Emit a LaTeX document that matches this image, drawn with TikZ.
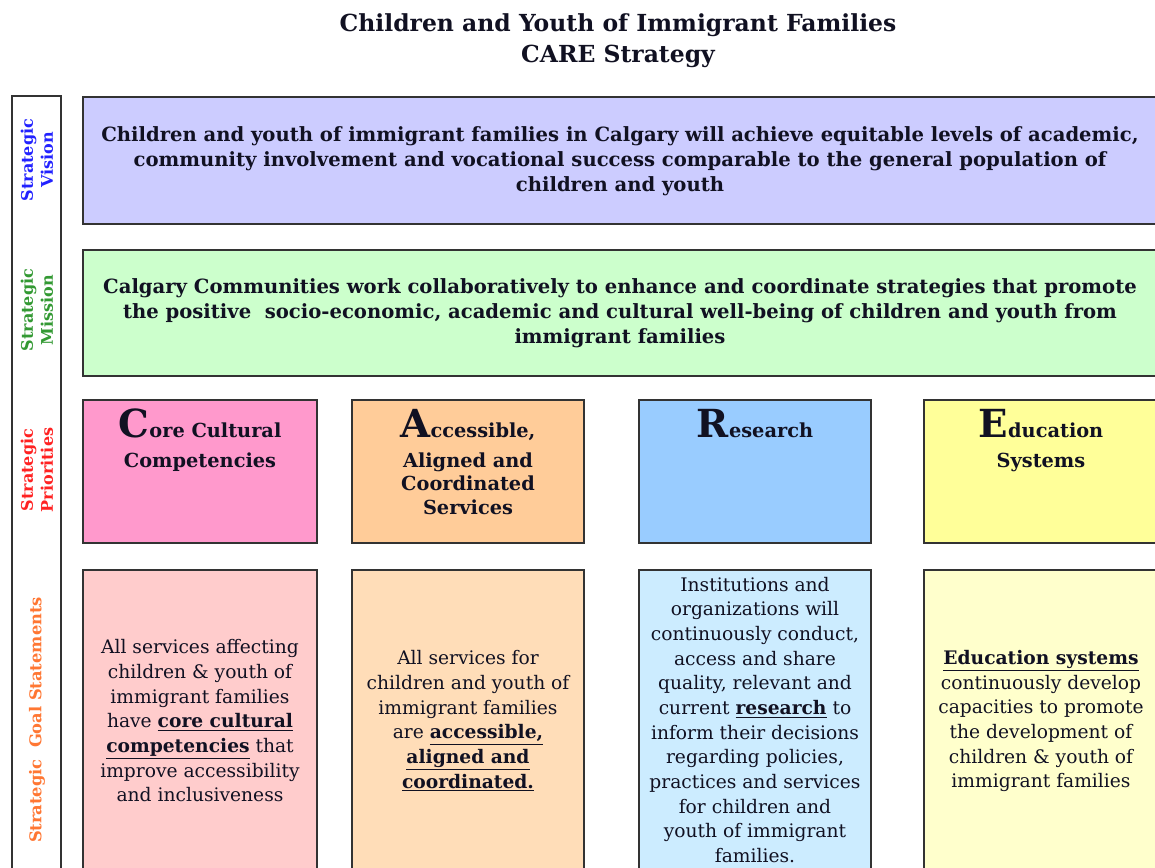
\documentclass[tikz,border=0pt]{standalone}
\usepackage{fontspec}
\setmainfont{DejaVu Serif}
\definecolor{bordc}{HTML}{333333}
\definecolor{txt}{HTML}{111122}
\definecolor{visc}{HTML}{CCCCFF}
\definecolor{misc}{HTML}{CCFFCC}
\definecolor{pri1}{HTML}{FF99CC}
\definecolor{pri2}{HTML}{FFCC99}
\definecolor{pri3}{HTML}{99CCFF}
\definecolor{pri4}{HTML}{FFFF99}
\definecolor{goal1}{HTML}{FFCCCC}
\definecolor{goal2}{HTML}{FFDDB8}
\definecolor{goal3}{HTML}{CCECFF}
\definecolor{goal4}{HTML}{FFFFCC}
\definecolor{lblue}{HTML}{2222FF}
\definecolor{lgreen}{HTML}{339933}
\definecolor{lred}{HTML}{FF2222}
\definecolor{lorange}{HTML}{FF7733}
\begin{document}
\begin{tikzpicture}[x=0.75pt,y=-0.75pt,
  bord/.style={draw=bordc,line width=1.3pt},
  titletext/.style={align=center,text=txt,font=\bfseries\fontsize{17.6}{23.2}\selectfont},
  bigtext/.style={align=center,text=txt,font=\bfseries\fontsize{14.7}{18.7}\selectfont},
  headtext/.style={anchor=base,text=txt,inner sep=0pt,font=\bfseries\fontsize{14.5}{17}\selectfont},
  goaltext/.style={align=center,text=txt,font=\fontsize{14}{18.5}\selectfont},
  sidetext/.style={rotate=90,align=center,font=\bfseries\fontsize{12}{15}\selectfont}]
\newcommand{\bigini}[1]{{\fontsize{29}{29}\selectfont #1}}
\useasboundingbox (0,0) rectangle (1155,867);
\clip (0,0) rectangle (1155,867);
\fill[white] (0,0) rectangle (1155,867);

% title
\node[titletext] (title) at (618,41) {Children and Youth of Immigrant Families\\CARE Strategy};

% sidebar
\draw[bord] (12,900) -- (12,96) -- (61,96) -- (61,900);
\node[sidetext,text=lblue] (svis) at (37,160) {Strategic\\Vision};
\node[sidetext,text=lgreen] (smis) at (37,310) {Strategic\\Mission};
\node[sidetext,text=lred] (spri) at (37,470) {Strategic\\Priorities};
\node[sidetext,text=lorange,font=\bfseries\fontsize{12.2}{15}\selectfont] (sgoal) at (37,720) {Strategic\ \ Goal Statements};

% vision and mission
\draw[bord,fill=visc] (83,97) rectangle (1175,224);
\node[bigtext] (vision) at (620,161) {Children and youth of immigrant families in Calgary will achieve equitable levels of academic,\\community involvement and vocational success comparable to the general population of\\children and youth};
\draw[bord,fill=misc] (83,250) rectangle (1175,376);
\node[bigtext] (mission) at (620,313) {Calgary Communities work collaboratively to enhance and coordinate strategies that promote\\the positive\ \ socio-economic, academic and cultural well-being of children and youth from\\immigrant families};

% priorities
\draw[bord,fill=pri1] (83,400) rectangle (317,543);
\draw[bord,fill=pri2] (352,400) rectangle (584,543);
\draw[bord,fill=pri3] (639,400) rectangle (871,543);
\draw[bord,fill=pri4] (924,400) rectangle (1175,543);

\node[headtext] (p1a) at (200,437) {\bigini{C}ore Cultural};
\node[headtext] (p1b) at (200,467) {Competencies};
\node[headtext] (p2a) at (468,437) {\bigini{A}ccessible,};
\node[headtext] (p2b) at (468,467) {Aligned and};
\node[headtext] (p2c) at (468,490) {Coordinated};
\node[headtext] (p2d) at (468,514) {Services};
\node[headtext] (p3a) at (755,437) {\bigini{R}esearch};
\node[headtext] (p4a) at (1041,437) {\bigini{E}ducation};
\node[headtext] (p4b) at (1041,467) {Systems};

% goals
\draw[bord,fill=goal1] (83,570) rectangle (317,900);
\draw[bord,fill=goal2] (352,570) rectangle (584,900);
\draw[bord,fill=goal3] (639,570) rectangle (871,900);
\draw[bord,fill=goal4] (924,570) rectangle (1175,900);

\node[goaltext] (g1) at (200,721) {All services affecting\\children \& youth of\\immigrant families\\have \underline{\textbf{core cultural}}\\\underline{\textbf{competencies}} that\\improve accessibility\\and inclusiveness};
\node[goaltext] (g2) at (468,721) {All services for\\children and youth of\\immigrant families\\are \underline{\textbf{accessible,}}\\\underline{\textbf{aligned and}}\\\underline{\textbf{coordinated.}}};
\node[goaltext] (g3) at (755,720) {Institutions and\\organizations will\\continuously conduct,\\access and share\\quality, relevant and\\current \underline{\textbf{research}} to\\inform their decisions\\regarding policies,\\practices and services\\for children and\\youth of immigrant\\families.};
\node[goaltext] (g4) at (1041,721) {\underline{\textbf{Education systems}}\\continuously develop\\capacities to promote\\the development of\\children \& youth of\\immigrant families};
\end{tikzpicture}
\end{document}
